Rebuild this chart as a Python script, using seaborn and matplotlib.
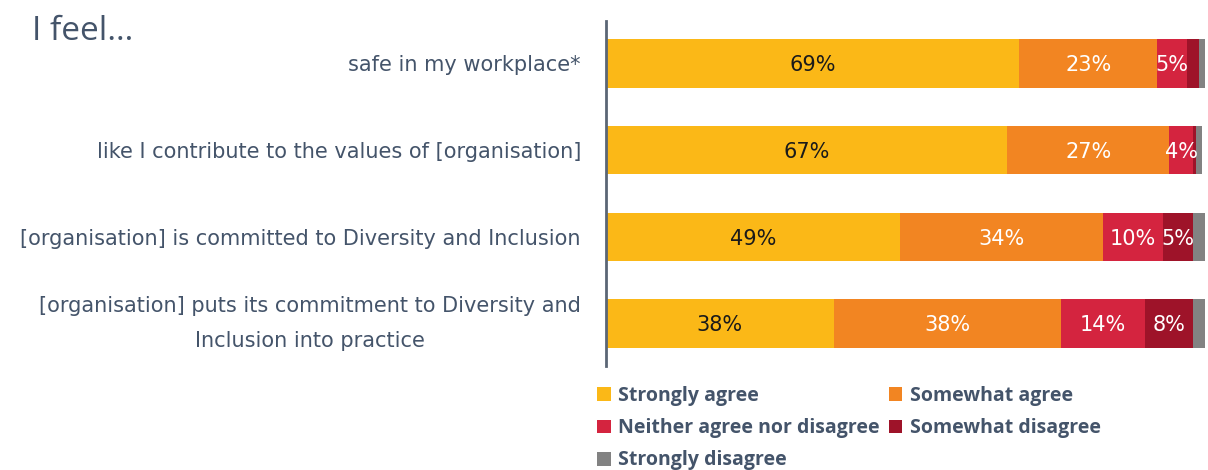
import matplotlib
matplotlib.use("Agg")
import matplotlib.pyplot as plt
from matplotlib import font_manager
from matplotlib.patches import Patch
import numpy as np
import pandas as pd
import seaborn as sns

# Survey statements and response shares (%)
categories = [
    "safe in my workplace*",
    "like I contribute to the values of [organisation]",
    "[organisation] is committed to Diversity and Inclusion",
    "[organisation] puts its commitment to Diversity and\nInclusion into practice",
]
strongly_agree = [69, 67, 49, 38]
somewhat_agree = [23, 27, 34, 38]
neither = [5, 4, 10, 14]
somewhat_disagree = [2, 0.5, 5, 8]
strongly_disagree = [1, 1, 2, 2]

responses = ["Strongly agree", "Somewhat agree", "Neither agree nor disagree",
             "Somewhat disagree", "Strongly disagree"]
colors = ["#FBB817", "#F28522", "#D4243F", "#9E1329", "#828282"]
label_colors = ["#1a1a1a", "white", "white", "white", "white"]

TEXT = "#44546A"

sns.set_style("white")
plt.rcParams["font.family"] = ["DejaVu Sans"]


def bold_font(size):
    """Regular-width bold Open Sans if present, else DejaVu Sans Bold."""
    for f in font_manager.fontManager.ttflist:
        if (f.name == "Open Sans" and f.weight in (700, "bold")
                and f.style == "normal" and f.stretch == "normal"
                and "ondensed" not in f.fname):
            return font_manager.FontProperties(fname=f.fname, size=size)
    return font_manager.FontProperties(family="DejaVu Sans", weight="bold",
                                       size=size - 1.5)


series = [strongly_agree, somewhat_agree, neither, somewhat_disagree, strongly_disagree]
df = pd.DataFrame({r: s for r, s in zip(responses, series)}, index=categories)
cum = df.cumsum(axis=1)

fig = plt.figure(figsize=(12.08, 4.70), dpi=100)
ax = fig.add_axes([606 / 1208, 1 - 366 / 470, 599 / 1208, (366 - 21) / 470])

# Stacked bars: draw cumulative totals from the longest down
for resp, col in reversed(list(zip(responses, colors))):
    sns.barplot(x=cum[resp].values, y=categories, color=col, width=0.555,
                orient="h", ax=ax, saturation=1, edgecolor="none")

# Segment value labels
for i, cat in enumerate(categories):
    left = 0
    for resp, lc in zip(responses, label_colors):
        v = df.loc[cat, resp]
        if v >= 4:
            ax.text(left + v / 2, i + 0.02, f"{v:g}%", ha="center", va="center",
                    color=lc, fontsize=15)
        left += v

ax.set_xlim(0, 100)
ax.set_ylim(3.49, -0.49)
ax.set_xlabel("")
ax.set_ylabel("")
ax.set_xticks([])
for s in ["top", "right", "bottom"]:
    ax.spines[s].set_visible(False)
ax.spines["left"].set_color("#5b6675")
ax.spines["left"].set_linewidth(2)
ax.tick_params(axis="y", length=0, pad=18, labelsize=15, labelcolor=TEXT)
for t in ax.get_yticklabels():
    t.set_multialignment("center")
    t.set_linespacing(1.9)
    if "\n" in t.get_text():
        t.set_va("center")

fig.text(32 / 1208, 1 - 31 / 470, "I feel…", fontsize=24, color=TEXT,
         ha="left", va="center", family=["Open Sans", "DejaVu Sans"])

handles = [Patch(facecolor=c, edgecolor="none") for c in colors]
order = [0, 2, 4, 1, 3]
fig.legend([handles[k] for k in order], [responses[k] for k in order],
           ncol=2, loc="upper left", bbox_to_anchor=(597 / 1208, 1 - 386 / 470),
           frameon=False, borderpad=0, borderaxespad=0,
           handlelength=0.7, handleheight=0.7, handletextpad=0.4,
           columnspacing=0.45, labelspacing=0.63,
           prop=bold_font(14), labelcolor=TEXT)

fig.savefig("out.png", dpi=100)
